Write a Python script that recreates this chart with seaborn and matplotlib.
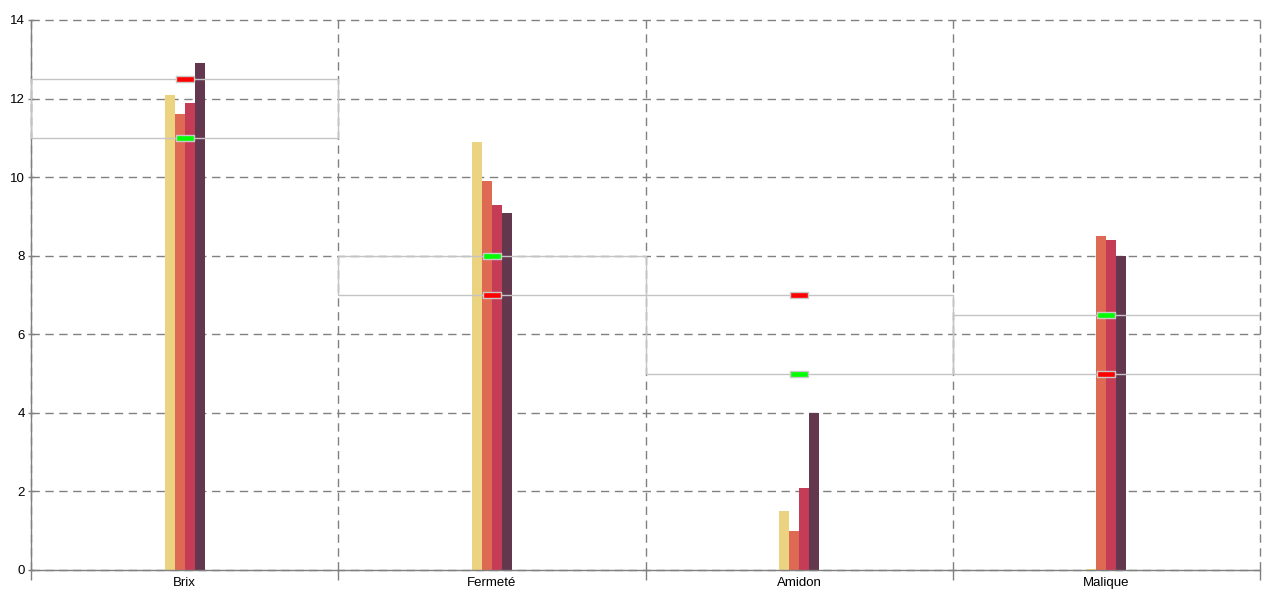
import numpy as np
import pandas as pd
import matplotlib
matplotlib.use('Agg')
import matplotlib.pyplot as plt
from matplotlib.patches import Rectangle
from matplotlib.path import Path
import seaborn as sns

# Données
categories = ['Brix', 'Fermeté', 'Amidon', 'Malique']
series = ['Série 1', 'Série 2', 'Série 3', 'Série 4']
valeurs_s1 = [12.1, 10.9, 1.5, 0.03]
valeurs_s2 = [11.6, 9.9, 1.0, 8.5]
valeurs_s3 = [11.9, 9.3, 2.1, 8.4]
valeurs_s4 = [12.9, 9.1, 4.0, 8.0]
seuil_bas = [11.0, 7.0, 5.0, 5.0]
seuil_haut = [12.5, 8.0, 7.0, 6.5]
marque_verte = [11.0, 8.0, 5.0, 6.5]
marque_rouge = [12.5, 7.0, 7.0, 5.0]

couleurs = ['#ECD382', '#DE6A54', '#C43C55', '#63374D']

df = pd.DataFrame({
    'categorie': categories * 4,
    'serie': np.repeat(series, len(categories)),
    'valeur': valeurs_s1 + valeurs_s2 + valeurs_s3 + valeurs_s4,
})

sns.set_style('white')
plt.rcParams['font.family'] = ['Liberation Sans', 'DejaVu Sans']

fig = plt.figure(figsize=(12.8, 6), dpi=100)
ax = fig.add_axes([31 / 1280, 30 / 600, 1229 / 1280, 550 / 600])

sns.barplot(data=df, x='categorie', y='valeur', hue='serie', order=categories,
            palette=couleurs, width=0.13, dodge=True, saturation=1,
            legend=False, ax=ax, linewidth=0, errorbar=None)

# Zones cibles
for i, (bas, haut) in enumerate(zip(seuil_bas, seuil_haut)):
    ax.add_patch(Rectangle((i - 0.5, bas), 1.0, haut - bas, fill=False,
                           edgecolor='#c4c4c4', linewidth=1, zorder=3))

# Marqueurs rectangulaires
rect = Path([(-8, -2.5), (8, -2.5), (8, 2.5), (-8, 2.5), (-8, -2.5)],
            [Path.MOVETO, Path.LINETO, Path.LINETO, Path.LINETO, Path.CLOSEPOLY])
x = np.arange(len(categories))
ax.plot(x, marque_verte, linestyle='none', marker=rect, ms=12.5,
        mfc='#00ff00', mec='#c8c8c8', mew=1, zorder=4)
ax.plot(x, marque_rouge, linestyle='none', marker=rect, ms=12.5,
        mfc='#ff0000', mec='#c8c8c8', mew=1, zorder=4)

ax.set_xlim(-0.5, len(categories) - 0.5)
ax.set_ylim(0, 14)
ax.set_yticks(range(0, 15, 2))
ax.set_xticks(x)
ax.set_xticks(np.arange(-0.5, len(categories), 1.0), minor=True)
ax.set_xlabel('')
ax.set_ylabel('')

ax.grid(False)
ax.yaxis.grid(True, which='major', color='#808080', linestyle=(0, (6, 4)), linewidth=1)
ax.xaxis.grid(True, which='minor', color='#808080', linestyle=(0, (6, 4)), linewidth=1)
ax.set_axisbelow(True)

for s in ['top', 'right']:
    ax.spines[s].set_visible(False)
for s in ['left', 'bottom']:
    ax.spines[s].set_color('#808080')
    ax.spines[s].set_linewidth(1)

ax.tick_params(axis='x', which='major', bottom=False, length=0, labelsize=9.5,
               pad=5, labelcolor='black')
ax.tick_params(axis='x', which='minor', bottom=True, length=7, width=1,
               color='#808080', direction='out')
ax.tick_params(axis='y', left=True, length=5, width=1, color='#808080',
               direction='inout', labelsize=9.5, pad=2, labelcolor='black')

for t in ax.xaxis.get_minor_ticks() + ax.yaxis.get_major_ticks():
    t.gridline.set_clip_on(False)

fig.savefig('out.png', dpi=100)
